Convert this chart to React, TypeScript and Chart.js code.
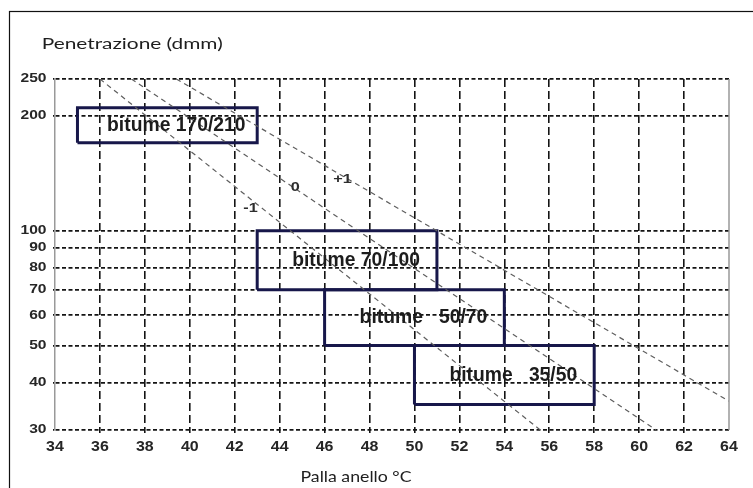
import React, { useEffect, useRef } from "react";
import { Chart, registerables } from "chart.js";

Chart.register(...registerables);

// ---------- data ----------
const xTicks = [34, 36, 38, 40, 42, 44, 46, 48, 50, 52, 54, 56, 58, 60, 62, 64];
const yTicks = [30, 40, 50, 60, 70, 80, 90, 100, 200, 250];

const gradeNames = ["bitume 170/210", "bitume 70/100", "bitume   50/70", "bitume   35/50"];
const gradeTempMin = [35, 43, 46, 50];
const gradeTempMax = [43, 51, 54, 58];
const gradePenMin = [170, 70, 50, 35];
const gradePenMax = [210, 100, 70, 50];

const piNames = ["-1", "0", "+1"];
const piStartTemp = [36.0, 37.4, 39.4];
const piStartPen = [250, 250, 250];
const piEndTemp = [55.6, 60.75, 64];
const piEndPen = [30, 30, 35.7];
const piLabelTemp = [42.7, 44.7, 46.8];
const piLabelPen = [114.6, 129.5, 136.5];

const yTitle = "Penetrazione (dmm)";
const xTitle = "Palla anello °C";

// ---------- helpers ----------
const SANS = '"Liberation Sans", Arial, sans-serif';
const HUM = 'Lato, "Open Sans", sans-serif';

function drawText(
  ctx: CanvasRenderingContext2D,
  text: string,
  x: number,
  y: number,
  font: string,
  sx: number,
  align: "left" | "center" | "right",
  baseline: CanvasTextBaseline,
  color: string
) {
  ctx.save();
  ctx.font = font;
  ctx.fillStyle = color;
  ctx.textBaseline = baseline;
  ctx.textAlign = "left";
  const w = ctx.measureText(text).width * sx;
  const left = align === "center" ? x - w / 2 : align === "right" ? x - w : x;
  ctx.translate(left, y);
  ctx.scale(sx, 1);
  ctx.fillText(text, 0, 0);
  ctx.restore();
}

function drawFitted(
  ctx: CanvasRenderingContext2D,
  text: string,
  x: number,
  y: number,
  font: string,
  targetW: number,
  color: string
) {
  ctx.save();
  ctx.font = font;
  const m = ctx.measureText(text).width;
  ctx.restore();
  drawText(ctx, text, x, y, font, targetW / m, "left", "alphabetic", color);
}

const overlayPlugin = {
  id: "overlay",
  afterDraw(chart: any) {
    const ctx: CanvasRenderingContext2D = chart.ctx;
    const xs = chart.scales.x;
    const ys = chart.scales.y;
    const area = chart.chartArea;

    // outer frame
    ctx.save();
    ctx.strokeStyle = "#111";
    ctx.lineWidth = 1.2;
    ctx.strokeRect(9.5, 11.5, 900, 700);
    ctx.restore();

    // right border of the plot
    ctx.save();
    ctx.strokeStyle = "#999";
    ctx.lineWidth = 1.5;
    ctx.beginPath();
    ctx.moveTo(area.right, area.top);
    ctx.lineTo(area.right, area.bottom);
    ctx.stroke();
    ctx.restore();

    // y tick labels
    yTicks.forEach((v) => {
      drawText(ctx, String(v), area.left - 8.5, ys.getPixelForValue(v), `bold 12px ${SANS}`, 1.3, "right", "middle", "#262626");
    });
    // x tick labels
    xTicks.forEach((v) => {
      drawText(ctx, String(v), xs.getPixelForValue(v), area.bottom + 17, `bold 14px ${SANS}`, 1.14, "center", "middle", "#262626");
    });

    // titles
    drawFitted(ctx, yTitle, 41.7, 48.5, `15.5px ${HUM}`, 181, "#1e1e1e");
    drawFitted(ctx, xTitle, 300.5, 482, `16px ${HUM}`, 111, "#1e1e1e");

    // grade labels
    gradeNames.forEach((name, i) => {
      const x0 = xs.getPixelForValue(gradeTempMin[i]);
      const x1 = xs.getPixelForValue(gradeTempMax[i]);
      const y0 = ys.getPixelForValue(gradePenMin[i]);
      const y1 = ys.getPixelForValue(gradePenMax[i]);
      drawText(ctx, name, (x0 + x1) / 2 + 9, (y0 + y1) / 2, `bold 21px ${SANS}`, 0.92, "center", "middle", "#1c1c1c");
    });

    // penetration index labels
    piNames.forEach((name, i) => {
      drawText(ctx, name, xs.getPixelForValue(piLabelTemp[i]), ys.getPixelForValue(piLabelPen[i]), `bold 12.5px ${SANS}`, 1.3, "center", "middle", "#2e2e2e");
    });
  },
};

export default function App() {
  const canvasRef = useRef<HTMLCanvasElement | null>(null);

  useEffect(() => {
    const canvas = canvasRef.current;
    if (!canvas) return;

    const piDatasets = piNames.map((name, i) => ({
      label: "PI " + name,
      data: [
        { x: piStartTemp[i], y: piStartPen[i] },
        { x: piEndTemp[i], y: piEndPen[i] },
      ],
      borderColor: "#5e5e5e",
      borderWidth: 1.2,
      borderDash: [5, 4],
      pointRadius: 0,
      fill: false,
      tension: 0,
    }));

    const boxDatasets = gradeNames.map((name, i) => ({
      label: name,
      data: [
        { x: gradeTempMin[i], y: gradePenMin[i] },
        { x: gradeTempMin[i], y: gradePenMax[i] },
        { x: gradeTempMax[i], y: gradePenMax[i] },
        { x: gradeTempMax[i], y: gradePenMin[i] },
        { x: gradeTempMin[i], y: gradePenMin[i] },
      ],
      borderColor: "#17174a",
      borderWidth: 3,
      borderJoinStyle: "miter" as const,
      pointRadius: 0,
      fill: false,
      tension: 0,
    }));

    const chart = new Chart(canvas, {
      type: "line",
      data: { datasets: [...piDatasets, ...boxDatasets] as any },
      options: {
        animation: false,
        responsive: false,
        events: [],
        layout: { padding: { left: 0, right: 24, top: 79, bottom: 0 } },
        plugins: { legend: { display: false }, tooltip: { enabled: false }, title: { display: false } },
        scales: {
          x: {
            type: "linear",
            min: 34,
            max: 64,
            afterBuildTicks: (s: any) => {
              s.ticks = xTicks.map((v) => ({ value: v }));
            },
            afterFit: (s: any) => {
              s.height = 58;
            },
            ticks: { display: false },
            grid: {
              color: (c: any) =>
                c.tick && (c.tick.value === xTicks[0] || c.tick.value === xTicks[xTicks.length - 1])
                  ? "rgba(0,0,0,0)"
                  : "#141414",
              lineWidth: 1.6,
              drawTicks: true,
              tickLength: 3,
            },
            border: { display: false, dash: [8, 4] },
          },
          y: {
            type: "logarithmic",
            min: 30,
            max: 250,
            afterBuildTicks: (s: any) => {
              s.ticks = yTicks.map((v) => ({ value: v }));
            },
            afterFit: (s: any) => {
              s.width = 55;
            },
            ticks: { display: false },
            grid: { color: "#141414", lineWidth: 1.7, drawTicks: true, tickLength: 2 },
            border: { display: true, color: "#999", width: 1.5, dash: [4, 2.5] },
          },
        },
      } as any,
      plugins: [overlayPlugin],
    });

    return () => chart.destroy();
  }, []);

  return (
    <div style={{ position: "absolute", left: 0, top: 0, width: 753, height: 488, background: "#fff" }}>
      <canvas ref={canvasRef} width={753} height={488} style={{ display: "block" }} />
    </div>
  );
}
